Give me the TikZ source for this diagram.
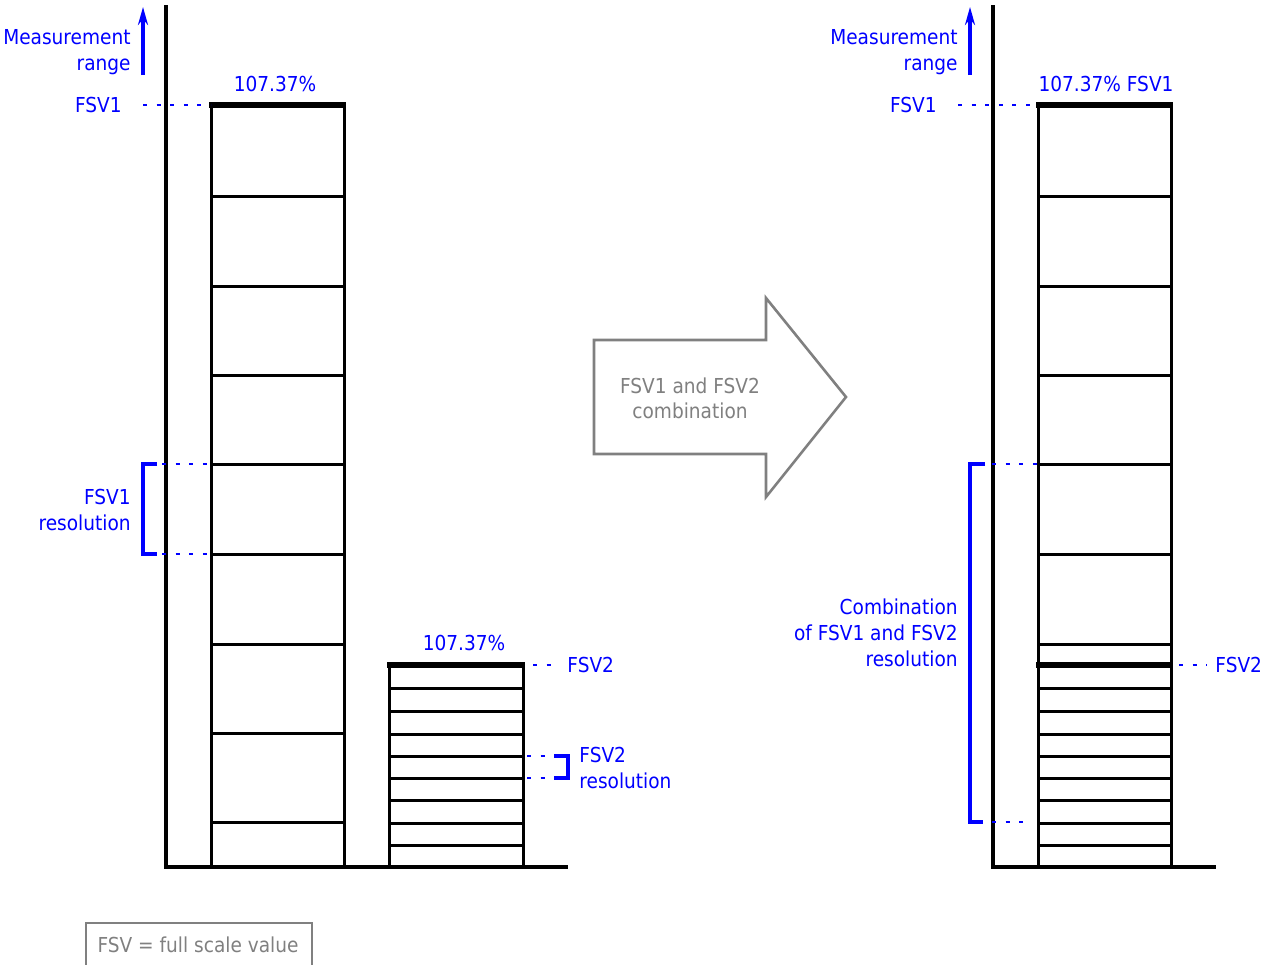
\documentclass[tikz,border=0pt]{standalone}
\usepackage{fontspec}
\setmainfont{DejaVu Sans}[FakeStretch=0.9]
\usetikzlibrary{arrows.meta}
\definecolor{fsvblue}{HTML}{0000FF}
\definecolor{shadegray}{HTML}{808080}
\tikzset{
  every picture/.style={line join=miter, >=Stealth},
  axis/.style={line width=1.7pt},
  grid/.style={line width=1.5pt},
  fsvtop/.style={line width=2.7pt},
  bracket/.style={fsvblue, line width=1.7pt},
  guide/.style={fsvblue, line width=1.4pt, dash pattern=on 2pt off 4.8pt},
  rangearrow/.style={fsvblue, line width=2pt, -{Stealth[length=9pt, width=5pt]}},
  lbl/.style={text=fsvblue, font=\fontsize{10.3}{13}\selectfont, inner sep=0pt},
  note/.style={text=shadegray, font=\fontsize{10.3}{12.5}\selectfont, inner sep=0pt},
}

\begin{document}
\begin{tikzpicture}[x=0.5pt, y=-0.5pt]
\useasboundingbox (0,0) rectangle (1272,964);

% left panel: axes and FSV1 bar
\draw[axis] (166,5) -- (166,867) -- (568,867);
\draw[grid] (211,105) rectangle (344,867);
\foreach \y in {196,286,375,464,554,644,733,822}
  \draw[grid] (211,\y) -- (344,\y);
\draw[fsvtop] (209,105) -- (346,105);

% left panel: FSV2 bar
\draw[grid] (389,665) rectangle (523,867);
\foreach \y in {688,711,734,756,778,800,823,845}
  \draw[grid] (389,\y) -- (523,\y);
\draw[fsvtop] (387,665) -- (525,665);

% left panel: labels
\node[lbl, anchor=east, align=right] (rangeL) at (131,52) {Measurement\\range};
\draw[rangearrow] (143,75) -- (143,7);
\node[lbl] (pctone) at (275,84) {107.37\%};
\node[lbl] (pcttwo) at (464,643) {107.37\%};
\node[lbl, anchor=east] (fsvoneL) at (122,105) {FSV1};
\coordinate (topone) at (211,105);
\draw[guide] (143,105) -- (topone);

\draw[bracket] (157,464) -- (143,464) -- (143,554) -- (157,554);
\draw[guide] (162,464) -- (211,464);
\draw[guide] (162,554) -- (211,554);
\node[lbl, anchor=east, align=right] (resone) at (131,510) {FSV1\\resolution};

\coordinate (toptwo) at (525,665);
\draw[guide] ([xshift=4pt]toptwo) -- (557,665);
\node[lbl, anchor=west] (fsvtwoL) at (567,665) {FSV2};
\draw[guide] (527,756) -- (556,756);
\draw[guide] (527,778) -- (556,778);
\draw[bracket] (554,756) -- (568,756) -- (568,778) -- (554,778);
\node[lbl, anchor=west, align=left] (restwo) at (579,768) {FSV2\\resolution};

% combination arrow
\draw[shadegray, line width=1.3pt, fill=white] (594,340) -- (766,340) -- (766,298)
  -- (846,397) -- (766,497) -- (766,454) -- (594,454) -- cycle;
\node[note, align=center] (combine) at (690,398) {FSV1 and FSV2\\combination};

% right panel: axes and combined bar
\draw[axis] (993,5) -- (993,867) -- (1216,867);
\draw[grid] (1038,105) rectangle (1171,867);
\foreach \y in {196,286,375,464,554,644,688,711,734,756,778,800,823,845}
  \draw[grid] (1038,\y) -- (1171,\y);
\draw[fsvtop] (1036,105) -- (1173,105);
\draw[fsvtop] (1036,665) -- (1173,665);

% right panel: labels
\node[lbl, anchor=east, align=right] (rangeR) at (958,52) {Measurement\\range};
\draw[rangearrow] (970,75) -- (970,7);
\node[lbl] (pctcomb) at (1106,84) {107.37\% FSV1};
\node[lbl, anchor=east] (fsvoneR) at (937,105) {FSV1};
\coordinate (topcomb) at (1038,105);
\draw[guide] (958,105) -- (topcomb);

\draw[bracket] (985,464) -- (970,464) -- (970,822) -- (983,822);
\draw[guide] (992,464) -- (1038,464);
\draw[guide] (992,822) -- (1029,822);
\node[lbl, anchor=east, align=right] (rescomb) at (958,633) {Combination\\of FSV1 and FSV2\\resolution};

\draw[guide] (1179,665) -- (1207,665);
\node[lbl, anchor=west] (fsvtwoR) at (1215,665) {FSV2};

% legend
\draw[shadegray, line width=1.3pt] (86,975) -- (86,923) -- (312,923) -- (312,975);
\node[note] (legend) at (198,945) {FSV = full scale value};
\end{tikzpicture}
\end{document}
